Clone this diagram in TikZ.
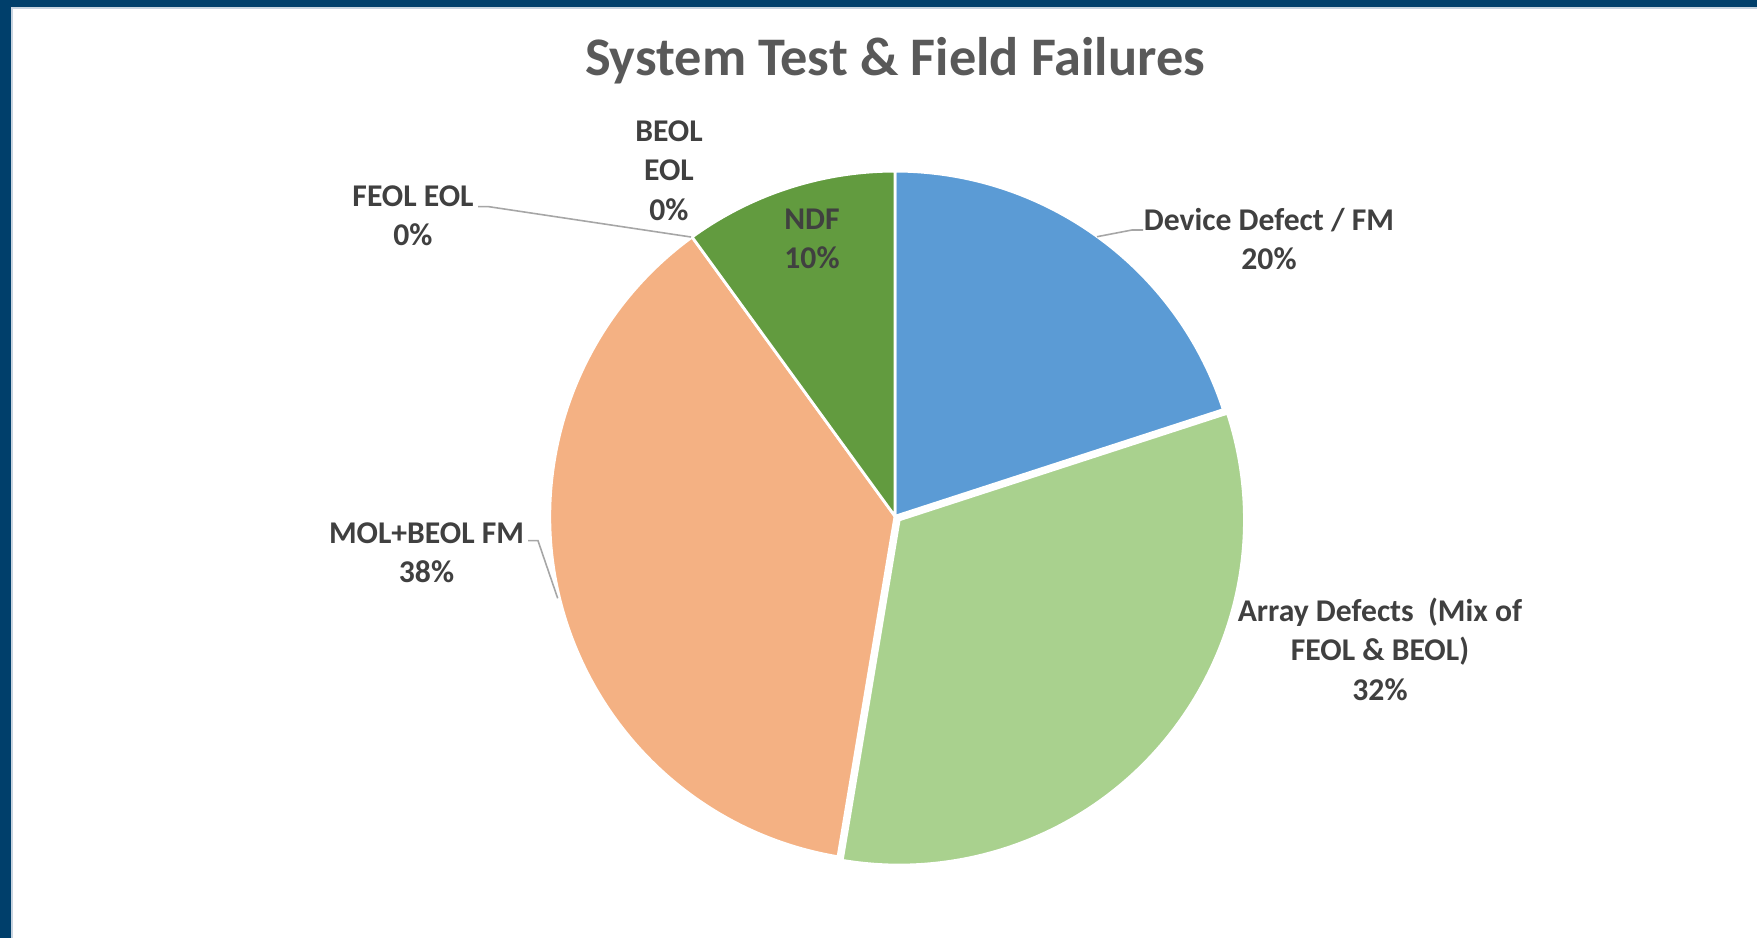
\documentclass[tikz,border=0pt]{standalone}
\usepackage{fontspec}
\setmainfont{Carlito}
\usetikzlibrary{calc}
\definecolor{navy}{HTML}{003F6B}
\definecolor{rimline}{HTML}{C8D4E0}
\definecolor{blueS}{HTML}{5B9BD5}
\definecolor{lgreenS}{HTML}{A9D18E}
\definecolor{orangeS}{HTML}{F4B183}
\definecolor{dgreenS}{HTML}{629B3F}
\definecolor{txt}{HTML}{404040}
\definecolor{ttl}{HTML}{595959}
\definecolor{lead}{HTML}{A6A6A6}
\begin{document}
\begin{tikzpicture}[x=0.01cm,y=0.01cm,
  slice/.style={draw=white,line width=0.8pt,line join=round},
  lbl/.style={font=\bfseries\fontsize{9}{11.2}\selectfont,text=txt,align=center,inner sep=0pt},
  leader/.style={draw=lead,line width=0.45pt}]
\fill[white] (0,0) rectangle (1757,938);
\useasboundingbox (0,0) rectangle (1757,938);
% frame
\fill[rimline] (11,929.5) rectangle (1757,931);
\fill[rimline] (11,0) rectangle (12.5,931);
\fill[navy] (0,931) rectangle (1757,938);
\fill[navy] (0,0) rectangle (11,938);
% pie
\def\R{3.45cm}
\coordinate (C) at (895,421.7);
\coordinate (C2) at ($(C)+(-40.75:0.055cm)$);
\path[slice,fill=blueS] (C) -- ($(C)+(90:\R)$) arc[start angle=90,end angle=18,radius=\R] -- cycle;
\path[slice,fill=orangeS] (C) -- ($(C)+(-99.5:\R)$) arc[start angle=-99.5,end angle=-234,radius=\R] -- cycle;
\path[slice,fill=dgreenS] (C) -- ($(C)+(126:\R)$) arc[start angle=126,end angle=90,radius=\R] -- cycle;
\path[slice,fill=lgreenS] (C2) -- ($(C2)+(18:\R)$) arc[start angle=18,end angle=-99.5,radius=\R] -- cycle;
% title
\node[font=\bfseries\fontsize{15.45}{18}\selectfont,text=ttl,anchor=base] (title) at (895,863) {System Test \& Field Failures};
% labels
\node[lbl] (dev) at (1269,699) {Device Defect / FM\\20\%};
\node[lbl] (arr) at (1380,289) {Array Defects\ \ (Mix of\\FEOL \& BEOL)\\32\%};
\node[lbl] (mol) at (426.5,385.5) {MOL+BEOL FM\\38\%};
\node[lbl] (ndf) at (812,699) {NDF\\10\%};
\node[lbl] (feol) at (413,722) {FEOL EOL\\0\%};
\node[lbl] (beol) at (669,767.5) {BEOL\\EOL\\0\%};
% leaders
\coordinate (feolA) at (478,731.3);
\coordinate (feolB) at (489,731.3);
\coordinate (feolP) at (691,701);
\draw[leader] (feolA) -- (feolB) -- (feolP);
\coordinate (devA) at (1143,708);
\coordinate (devB) at (1132,708);
\coordinate (devP) at (1097,701.3);
\draw[leader] (devA) -- (devB) -- (devP);
\coordinate (molA) at (528,397.3);
\coordinate (molB) at (538,397.3);
\coordinate (molP) at (557.7,339.7);
\draw[leader] (molA) -- (molB) -- (molP);
\end{tikzpicture}
\end{document}
